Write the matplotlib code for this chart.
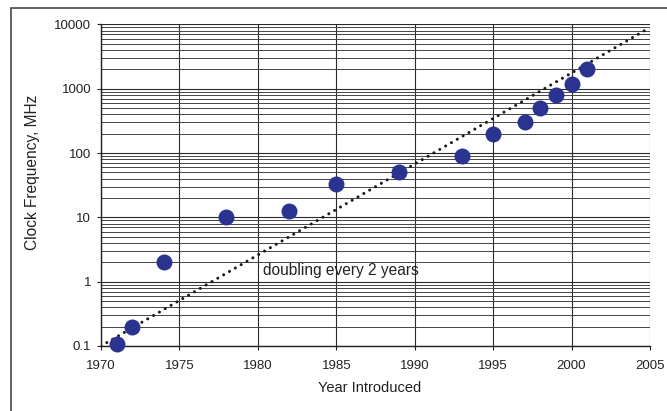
import numpy as np
import matplotlib
matplotlib.use('Agg')
import matplotlib.pyplot as plt
from matplotlib.patches import Rectangle
from matplotlib.ticker import LogLocator, NullFormatter, FixedLocator

plt.rcParams['font.family'] = ['Liberation Sans', 'DejaVu Sans']

## Data
years = [1971, 1972, 1974, 1978, 1982, 1985, 1989, 1993, 1995, 1997, 1998, 1999, 2000, 2001]
clock_mhz = [0.108, 0.2, 2.0, 10, 12.5, 33, 50, 90, 200, 300, 500, 800, 1200, 2000]

# trend line ("doubling every 2 years")
trend_years = [1970, 2005]
trend_mhz = [0.1, 9000]

x_ticks = [1970, 1975, 1980, 1985, 1990, 1995, 2000, 2005]
y_ticks = [0.1, 1, 10, 100, 1000, 10000]
y_tick_labels = ['0.1', '1', '10', '100', '1000', '10000']

fig = plt.figure(figsize=(6.67, 4.11), dpi=100)
ax = fig.add_axes([0.1514, 0.1582, 0.9745 - 0.1514, 0.9404 - 0.1582])

# outer frame (cropped on the right and bottom)
fig.patches.append(Rectangle((11 / 667, -0.05), 1.2, 1 - 8 / 411 + 0.05,
                             transform=fig.transFigure, fill=False,
                             edgecolor='#555555', linewidth=1.3))

ax.set_yscale('log')
ax.set_xlim(1970, 2005)
ax.set_ylim(0.1, 10000)

# grid
ax.yaxis.set_major_locator(FixedLocator(y_ticks))
ax.yaxis.set_minor_locator(LogLocator(base=10, subs=np.arange(2, 10)))
ax.yaxis.set_minor_formatter(NullFormatter())
ax.set_yticklabels(y_tick_labels)
ax.set_xticks(x_ticks)
ax.grid(True, which='major', axis='both', color='#2a2a2a', linewidth=0.8)
ax.grid(True, which='minor', axis='y', color='#444444', linewidth=0.7)
ax.set_axisbelow(True)

ax.tick_params(axis='both', which='major', direction='out', length=3, width=0.8,
               labelsize=9.5, color='#222222', labelcolor='#222222')
ax.tick_params(axis='x', which='major', pad=7)
ax.tick_params(axis='y', which='major', pad=4)
ax.tick_params(axis='y', which='minor', length=0)

for side in ['top', 'right']:
    ax.spines[side].set_visible(False)
for side in ['left', 'bottom']:
    ax.spines[side].set_linewidth(1.0)
    ax.spines[side].set_color('#222222')

# trend line
ax.plot(trend_years, trend_mhz, color='#1a1a1a', linewidth=2.2,
        linestyle=(0, (0.01, 2.2)), dash_capstyle='round', zorder=3)

# data points
ax.plot(years, clock_mhz, 'o', color='#2B3390', markersize=11.5,
        markeredgewidth=0, zorder=4, clip_on=False)

ax.text(1980.3, 1.47, 'doubling every 2 years', fontsize=11.2,
        color='#222222', va='center', ha='left')

ax.set_xlabel('Year Introduced', fontsize=10.5, color='#222222')
ax.set_ylabel('Clock Frequency, MHz', fontsize=11.2, color='#222222')
ax.xaxis.set_label_coords(0.49, -0.108)
ax.yaxis.set_label_coords(-0.111, 0.541)

fig.savefig('out.png', dpi=100)
